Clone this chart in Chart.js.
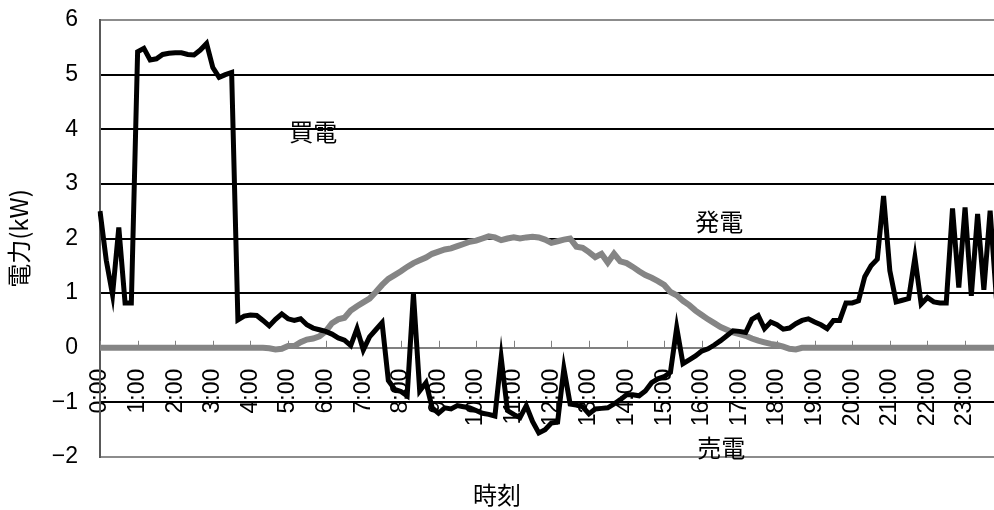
<!DOCTYPE html>
<html>
<head>
<meta charset="utf-8">
<script src="https://cdn.jsdelivr.net/npm/chart.js@4"></script>
<style>
  html, body { margin: 0; padding: 0; background: #fff; overflow: hidden; }
  #wrap { width: 1045px; height: 510px; }
</style>
</head>
<body>
<div id="wrap"><canvas id="power"></canvas></div>
<script>
// 10-minute slots over one day
const TIMES = [];
for (let h = 0; h < 24; h++) {
    for (let m = 0; m < 60; m += 10) TIMES.push(h + ':' + String(m).padStart(2, '0'));
}

// net power at the meter (kW), positive = buying, negative = selling
const NET = [
    2.5, 1.6, 0.97, 2.2, 0.82, 0.82,
    5.42, 5.48, 5.27, 5.29, 5.37, 5.39,
    5.40, 5.40, 5.37, 5.36, 5.45, 5.57,
    5.13, 4.95, 5.0, 5.04, 0.51, 0.58,
    0.6, 0.59, 0.5, 0.4, 0.52, 0.62,
    0.53, 0.5, 0.53, 0.42, 0.36, 0.33,
    0.3, 0.25, 0.18, 0.14, 0.04, 0.35,
    -0.04, 0.2, 0.33, 0.46, -0.6, -0.76,
    -0.8, -0.88, 0.99, -0.79, -0.64, -1.1,
    -1.2, -1.1, -1.12, -1.06, -1.08, -1.1,
    -1.15, -1.2, -1.22, -1.25, -0.18, -1.15,
    -1.22, -1.28, -1.06, -1.35, -1.56, -1.5,
    -1.38, -1.36, -0.38, -1.03, -1.05, -1.08,
    -1.21, -1.12, -1.11, -1.1, -1.03, -0.95,
    -0.86, -0.86, -0.88, -0.79, -0.64, -0.57,
    -0.53, -0.45, 0.37, -0.29, -0.22, -0.15,
    -0.06, -0.02, 0.05, 0.13, 0.22, 0.31,
    0.3, 0.28, 0.52, 0.59, 0.35, 0.47,
    0.42, 0.34, 0.36, 0.44, 0.5, 0.53,
    0.47, 0.42, 0.35, 0.5, 0.5, 0.82,
    0.82, 0.86, 1.3, 1.5, 1.62, 2.78,
    1.41, 0.84, 0.87, 0.9, 1.65, 0.8,
    0.92, 0.84, 0.82, 0.82, 2.55, 1.1,
    2.57, 0.95, 2.45, 1.06, 2.51, 0.9
];

// solar generation (kW)
const GEN = [
    0, 0, 0, 0, 0, 0,
    0, 0, 0, 0, 0, 0,
    0, 0, 0, 0, 0, 0,
    0, 0, 0, 0, 0, 0,
    0, 0, 0, -0.01, -0.03, -0.02,
    0.03, 0.03, 0.1, 0.15, 0.17, 0.21,
    0.3, 0.45, 0.52, 0.55, 0.68, 0.76,
    0.83, 0.9, 1.02, 1.15, 1.26, 1.33,
    1.4, 1.48, 1.55, 1.6, 1.65, 1.72,
    1.76, 1.8, 1.82, 1.86, 1.9, 1.94,
    1.96, 2.0, 2.04, 2.02, 1.97, 2.0,
    2.02, 2.0, 2.02, 2.03, 2.02, 1.98,
    1.92, 1.95, 1.98, 2.0, 1.85, 1.83,
    1.75, 1.66, 1.72, 1.56, 1.72, 1.58,
    1.55, 1.48, 1.4, 1.33, 1.28, 1.22,
    1.15, 1.02, 0.96, 0.86, 0.78, 0.68,
    0.6, 0.52, 0.45, 0.38, 0.33, 0.28,
    0.25, 0.22, 0.17, 0.13, 0.1, 0.07,
    0.05, 0.02, -0.02, -0.03, 0, 0,
    0, 0, 0, 0, 0, 0,
    0, 0, 0, 0, 0, 0,
    0, 0, 0, 0, 0, 0,
    0, 0, 0, 0, 0, 0,
    0, 0, 0, 0, 0, 0
];

const Y_MIN = -2;
const Y_MAX = 6;

const JP_FONT = '"Noto Sans CJK JP", sans-serif';
const NUM_FONT = '"Liberation Sans", Arial, sans-serif';

// hour tick marks on the zero axis, in-chart labels and the x title
const overlay = {
    id: 'overlay',
    beforeDatasetsDraw(chart) {
        const ctx = chart.ctx;
        const x = chart.scales.x, y = chart.scales.y;
        const y0 = y.getPixelForValue(0);
        ctx.save();
        ctx.strokeStyle = '#808080';
        ctx.lineWidth = 1;
        ctx.beginPath();
        TIMES.forEach((t, i) => {
            if (!t.endsWith(':00')) return;
            const px = Math.round(x.getPixelForValue(i)) + 0.5;
            ctx.moveTo(px, y0);
            ctx.lineTo(px, y0 - 7);
        });
        ctx.stroke();
        ctx.restore();
    },
    afterDatasetsDraw(chart) {
        const ctx = chart.ctx;
        const x = chart.scales.x, y = chart.scales.y;
        ctx.save();
        ctx.fillStyle = '#000';
        ctx.font = '24px ' + JP_FONT;
        ctx.textAlign = 'center';
        ctx.textBaseline = 'middle';
        ctx.fillText('買電', x.getPixelForValue(34), y.getPixelForValue(3.96));
        ctx.fillText('発電', x.getPixelForValue(98.8), y.getPixelForValue(2.31));
        ctx.fillText('売電', x.getPixelForValue(99.1), y.getPixelForValue(-1.83));
        ctx.fillText('時刻', 497, 495);
        ctx.restore();
    }
};

new Chart(document.getElementById('power'), {
    type: 'line',
    data: {
        labels: TIMES,
        datasets: [{
            label: '電力',
            data: NET,
            borderColor: '#000',
            borderWidth: 5,
            pointRadius: 0,
            tension: 0
        }, {
            label: '発電',
            data: GEN,
            borderColor: '#858585',
            borderWidth: 6,
            pointRadius: 0,
            tension: 0
        }]
    },
    options: {
        responsive: true,
        maintainAspectRatio: false,
        animation: false,
        events: [],
        layout: { padding: { top: 20, right: 12, bottom: 53, left: 0 } },
        plugins: {
            legend: { display: false },
            tooltip: { enabled: false }
        },
        scales: {
            x: {
                type: 'category',
                position: { y: 0 },
                offset: false,
                grid: { display: false, drawTicks: false },
                border: { display: true, color: '#808080', width: 2 },
                ticks: {
                    autoSkip: false,
                    maxRotation: 90,
                    minRotation: 90,
                    padding: 21,
                    color: '#000',
                    font: { family: NUM_FONT, size: 23 },
                    callback: function (v, i) {
                        const t = TIMES[i];
                        return t.endsWith(':00') ? t : '';
                    }
                }
            },
            y: {
                min: Y_MIN,
                max: Y_MAX,
                afterFit: function (scale) { scale.width = 100; },
                grid: {
                    drawTicks: true,
                    tickLength: 22,
                    tickColor: 'rgba(0,0,0,0)',
                    lineWidth: 2,
                    color: function (c) {
                        const v = c.tick.value;
                        if (v === 0) return 'rgba(0,0,0,0)';
                        if (v === Y_MIN || v === Y_MAX) return '#8c8c8c';
                        return '#000';
                    }
                },
                border: { display: true, color: '#595959', width: 2 },
                ticks: {
                    stepSize: 1,
                    padding: 0,
                    color: '#000',
                    font: { family: NUM_FONT, size: 23 },
                    callback: v => (v < 0 ? '−' + Math.abs(v) : String(v))
                },
                title: {
                    display: true,
                    text: '電力(kW)',
                    color: '#000',
                    font: { family: JP_FONT, size: 24 },
                    padding: { top: 4, bottom: 4 }
                }
            }
        }
    },
    plugins: [overlay]
});
</script>
</body>
</html>
